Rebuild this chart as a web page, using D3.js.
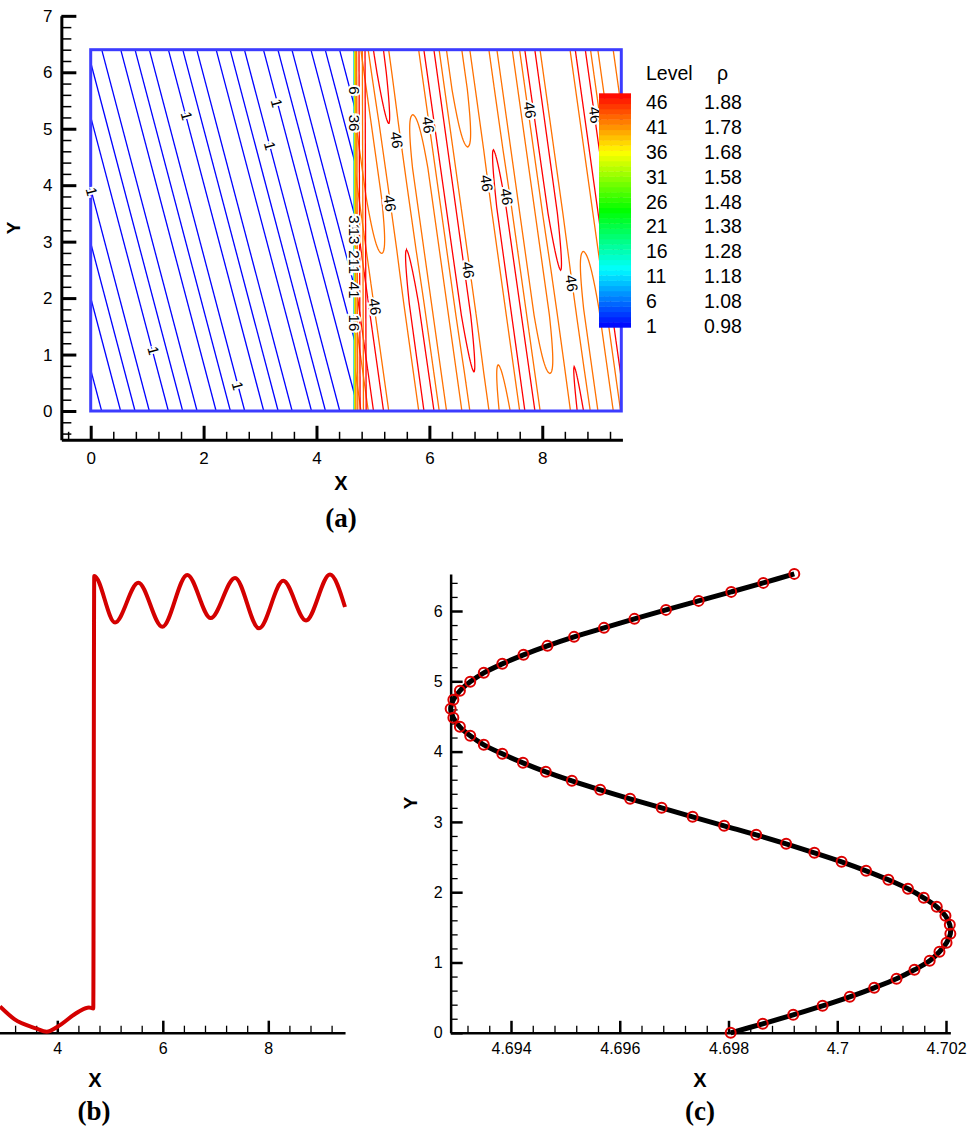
<!DOCTYPE html>
<html><head><meta charset="utf-8">
<script src="https://cdn.jsdelivr.net/npm/d3@7"></script>
<style>
body{margin:0;background:#fff}
svg{display:block}
</style>
</head><body>
<svg id="chart" width="977" height="1128"></svg>
<script>
// ================= DATA =================
// colour legend (panel a)
const levelNums = [46, 41, 36, 31, 26, 21, 16, 11, 6, 1];
const levelRho  = ["1.88", "1.78", "1.68", "1.58", "1.48", "1.38", "1.28", "1.18", "1.08", "0.98"];
const drawnLevels = [1.78, 1.88];   // levels 41 and 46 in the compressed region

// panel (a) ticks
const aXTicks = [0, 2, 4, 6, 8];
const aYTicks = [0, 1, 2, 3, 4, 5, 6, 7];
// panel (a) field extent
const fieldX = [0, 9.4];
const fieldY = [0, 6.4];
// level-1 (blue) contour lines: x where each line meets the top edge, and common slope dx/dy
const blueSlope = 0.264;
const blueTop = [-1.496, -1.16, -0.904, -0.651, -0.314, -0.060, 0.195, 0.532, 0.785, 1.039, 1.376,
                 1.631, 1.879, 2.222, 2.470, 2.723, 3.060, 3.316, 3.564, 3.901, 4.154, 4.408, 4.66];
const blueLabels = [[1.701, 5.226], [3.295, 5.451], [3.176, 4.694], [0.018, 3.885], [1.109, 1.068], [2.604, 0.443]];
// interface contour lines
const ifaceLevels = [6, 11, 16, 21, 26, 31, 36, 41];
const ifaceX      = [4.668, 4.670, 4.672, 4.674, 4.676, 4.680, 4.684, 4.700];
const ifaceLabels = [["6", 5.68], ["36", 5.10], ["31", 3.32], ["13", 3.10], ["21", 2.70], ["1", 2.50], ["41", 2.14], ["16", 1.56]];
// lines hugging the interface on the compressed side: [x, level]
const nearLines = [[4.712, 41], [4.753, 46], [4.812, 41], [4.860, 46]];
// compressed region: crests of the tilted waves (x at y = 0) and their density along y  [y, rho] knots
const waveSlope = 0.14;
const troughRho = 1.765;
const crestU = [4.652, 5.099, 5.546, 5.993, 6.440, 6.887, 7.334, 7.781, 8.228, 8.675, 9.122, 9.569, 10.016, 10.463];
const crestRho = [
  [[0, 1.81], [6.4, 1.81]],
  [[0, 1.94], [6.4, 1.94]],
  [[0, 1.768], [1.9, 1.772], [2.794, 1.78], [3.8, 1.81], [6.4, 1.81]],
  [[0, 1.94], [1.9, 1.93], [2.852, 1.88], [4.0, 1.872], [5.097, 1.88], [6.0, 1.93], [6.4, 1.94]],
  [[0, 1.81], [4.3, 1.81], [5.244, 1.78], [6.0, 1.772], [6.4, 1.768]],
  [[0, 1.875], [0.696, 1.88], [1.7, 1.93], [6.4, 1.94]],
  [[0, 1.79], [0.815, 1.78], [1.8, 1.772], [3.7, 1.772], [4.682, 1.78], [5.7, 1.81], [6.4, 1.81]],
  [[0, 1.94], [3.6, 1.93], [4.624, 1.88], [5.6, 1.872], [6.4, 1.872]],
  [[0, 1.772], [0.668, 1.78], [1.7, 1.81], [6.4, 1.81]],
  [[0, 1.90], [0.785, 1.88], [1.6, 1.872], [2.498, 1.88], [3.5, 1.93], [6.4, 1.94]],
  [[0, 1.81], [1.8, 1.81], [2.822, 1.78], [3.8, 1.772], [6.4, 1.768]],
  [[0, 1.94], [6.4, 1.94]],
  [[0, 1.81], [6.4, 1.81]],
  [[0, 1.94], [6.4, 1.94]]
];
const labels46 = [[5.421, 4.801], [5.981, 5.066], [5.302, 3.679], [7.782, 5.332], [7.015, 4.034],
                  [7.369, 3.796], [6.689, 2.498], [8.521, 2.262], [5.036, 1.848], [8.934, 5.244]];

// panel (b): density along a horizontal cut
const bTicks = [4, 6, 8];
const bX   = [2.914, 3.185, 3.596, 3.800, 4.000, 4.400, 4.600, 4.682, 4.700, 5.094, 5.536, 5.991, 6.464, 6.908, 7.369, 7.824, 8.284, 8.715, 9.170, 9.454];
const bRho = [1.016, 0.990, 0.971, 0.964, 0.974, 1.005, 1.014, 1.012, 1.904, 1.808, 1.890, 1.799, 1.906, 1.817, 1.900, 1.796, 1.894, 1.812, 1.907, 1.840];

// panel (c): interface position
const cXTicks = [4.694, 4.696, 4.698, 4.700, 4.702];
const cYTicks = [0, 1, 2, 3, 4, 5, 6];
const cY = [0.000, 0.128, 0.256, 0.384, 0.512, 0.640, 0.768, 0.896, 1.024, 1.152, 1.280, 1.408, 1.536,
            1.664, 1.792, 1.920, 2.048, 2.176, 2.304, 2.432, 2.560, 2.688, 2.816, 2.944, 3.072, 3.200,
            3.328, 3.456, 3.584, 3.712, 3.840, 3.968, 4.096, 4.224, 4.352, 4.480, 4.608, 4.736, 4.864,
            4.992, 5.120, 5.248, 5.376, 5.504, 5.632, 5.760, 5.888, 6.016, 6.144, 6.272, 6.400, 6.528];
const cX = [4.69804, 4.69863, 4.69919, 4.69973, 4.70023, 4.70068, 4.70109, 4.70142, 4.70170, 4.70188,
            4.70201, 4.70208, 4.70207, 4.70199, 4.70183, 4.70159, 4.70130, 4.70094, 4.70053, 4.70008,
            4.69958, 4.69906, 4.69851, 4.69792, 4.69734, 4.69677, 4.69619, 4.69564, 4.69512, 4.69464,
            4.69422, 4.69384, 4.69350, 4.69325, 4.69306, 4.69294, 4.69289, 4.69294, 4.69306, 4.69325,
            4.69350, 4.69384, 4.69423, 4.69467, 4.69516, 4.69571, 4.69627, 4.69685, 4.69745, 4.69805,
            4.69864, 4.69921];

// ================= DRAWING =================
const SANS = '"Liberation Sans", Arial, Helvetica, sans-serif';
const SERIF = '"Liberation Serif", "Times New Roman", serif';
const svg = d3.select("#chart");
const defs = svg.append("defs");
const cmap = d3.scaleLinear().domain([1, 12.25, 23.5, 34.75, 46])
  .range(["#0000ff", "#00ffff", "#00ff00", "#ffff00", "#ff0000"]);
const rhoToLevel = d3.scaleLinear().domain([0.98, 1.88]).range([1, 46]);

function styleAxis(g, w, tw, font) {
  g.select(".domain").attr("stroke", "#000").attr("stroke-width", w);
  g.selectAll(".tick line").attr("stroke", "#000").attr("stroke-width", tw);
  g.selectAll(".tick text").attr("fill", "#000").attr("font-family", SANS).attr("font-size", font);
}
function minorAxis(g, axis, tw) {
  g.call(axis);
  g.select(".domain").remove();
  g.selectAll(".tick line").attr("stroke", "#000").attr("stroke-width", tw);
}

// ---------- Panel (a) ----------
const xA = d3.scaleLinear().domain(fieldX).range([90.7, 621.3]);
const yA = d3.scaleLinear().domain(fieldY).range([411, 49.7]);
const ifaceMin = d3.min(ifaceX);
const gA = svg.append("g");

defs.append("clipPath").attr("id", "clipL").append("rect")
  .attr("x", xA(0)).attr("y", yA(6.4)).attr("width", xA(ifaceMin) - xA(0)).attr("height", yA(0) - yA(6.4));
defs.append("clipPath").attr("id", "clipR").append("rect")
  .attr("x", xA(ifaceMin)).attr("y", yA(6.4)).attr("width", xA(9.4) - xA(ifaceMin)).attr("height", yA(0) - yA(6.4));

// blue level-1 lines
gA.append("g").attr("clip-path", "url(#clipL)")
  .selectAll("line").data(blueTop).join("line")
  .attr("x1", d => xA(d)).attr("y1", yA(fieldY[1]))
  .attr("x2", d => xA(d + blueSlope * fieldY[1])).attr("y2", yA(fieldY[0]))
  .attr("stroke", cmap(1)).attr("stroke-width", 1.3);

// compressed region: grid table built from crest arrays, contoured with d3.contours
const gx0 = 4.68, gdx = 0.01, gdy = 0.02;
const nx = Math.round((fieldX[1] - gx0) / gdx), ny = Math.round((fieldY[1] - fieldY[0]) / gdy);
const crestScales = crestRho.map(k => d3.scaleLinear().domain(k.map(p => p[0])).range(k.map(p => p[1])).clamp(true));
const grid = new Float64Array(nx * ny);
for (let j = 0; j < ny; j++) {
  const y = fieldY[1] - (j + 0.5) * gdy;
  const P = crestScales.map(s => s(y));
  for (let i = 0; i < nx; i++) {
    const x = gx0 + (i + 0.5) * gdx;
    const u = x + waveSlope * y;
    let k = d3.bisectRight(crestU, u) - 1;
    k = Math.max(0, Math.min(crestU.length - 2, k));
    const mid = (crestU[k] + crestU[k + 1]) / 2;
    let v;
    if (u < mid) {
      const t = Math.max(0, (u - crestU[k]) / (mid - crestU[k]));
      v = troughRho + (P[k] - troughRho) * (1 + Math.cos(Math.PI * Math.min(1, t))) / 2;
    } else {
      const t = Math.max(0, (crestU[k + 1] - u) / (crestU[k + 1] - mid));
      v = troughRho + (P[k + 1] - troughRho) * (1 + Math.cos(Math.PI * Math.min(1, t))) / 2;
    }
    grid[j * nx + i] = v;
  }
}
const contours = d3.contours().size([nx, ny]).thresholds(drawnLevels)(Array.from(grid));
const proj = d3.geoTransform({ point: function (px, py) {
  this.stream.point(xA(gx0 + px * gdx), yA(fieldY[1] - py * gdy));
}});
const geoPath = d3.geoPath(proj);
const gR = gA.append("g").attr("clip-path", "url(#clipR)");
gR.selectAll("path").data(contours).join("path")
  .attr("d", geoPath).attr("fill", "none")
  .attr("stroke", d => cmap(rhoToLevel(d.value))).attr("stroke-width", 1.3);
gR.selectAll(".near").data(nearLines).join("line")
  .attr("x1", d => xA(d[0])).attr("x2", d => xA(d[0] + 0.02))
  .attr("y1", yA(6.4)).attr("y2", yA(0))
  .attr("stroke", d => cmap(d[1])).attr("stroke-width", 1.3);

// interface lines
gA.append("g").selectAll("line").data(ifaceX).join("line")
  .attr("x1", d => xA(d)).attr("x2", d => xA(d))
  .attr("y1", yA(6.4)).attr("y2", yA(0))
  .attr("stroke", (d, i) => cmap(ifaceLevels[i])).attr("stroke-width", 1.2);

// frame of the field
gA.append("rect").attr("x", xA(0)).attr("y", yA(6.4))
  .attr("width", xA(9.4) - xA(0)).attr("height", yA(0) - yA(6.4))
  .attr("fill", "none").attr("stroke", "#3c3cff").attr("stroke-width", 3);

// contour labels
function contourLabel(g, data, txt, rot, xf, yf) {
  g.selectAll(null).data(data).join("text")
    .attr("transform", d => `translate(${xf(d)},${yf(d)}) rotate(${rot})`)
    .attr("text-anchor", "middle").attr("dy", "0.35em")
    .attr("font-family", SANS).attr("font-size", 15)
    .attr("paint-order", "stroke").attr("stroke", "#fff").attr("stroke-width", 4)
    .attr("fill", "#000").text(txt);
}
contourLabel(gA, blueLabels, "1", 75, d => xA(d[0]), d => yA(d[1]));
contourLabel(gA, labels46, "46", 82, d => xA(d[0]), d => yA(d[1]));
gA.selectAll(".il").data(ifaceLabels).join("text")
  .attr("transform", d => `translate(${xA(4.676)},${yA(d[1])}) rotate(90)`)
  .attr("text-anchor", "middle").attr("dy", "0.35em")
  .attr("font-family", SANS).attr("font-size", 15)
  .attr("paint-order", "stroke").attr("stroke", "#fff").attr("stroke-width", 4)
  .attr("fill", "#000").text(d => d[0]);

// colour bar
const yLev = d3.scaleLinear().domain([1, 46]).range([327.3, 93.3]);
const bandsCB = d3.range(1, 46);
gA.append("g").selectAll("rect").data(bandsCB).join("rect")
  .attr("x", 599).attr("width", 32)
  .attr("y", d => yLev(d + 1)).attr("height", d => yLev(d) - yLev(d + 1) + 0.4)
  .attr("fill", d => cmap(d + 0.5));
const legend = gA.append("g").attr("font-family", SANS).attr("font-size", 19.5).attr("fill", "#000");
legend.append("text").attr("x", 646).attr("y", 80).text("Level");
legend.append("text").attr("x", 717).attr("y", 80).text("ρ");
legend.selectAll(".ln").data(levelNums).join("text")
  .attr("x", 646).attr("y", (d, i) => 109.3 + i * 24.8).text(d => d);
legend.selectAll(".lr").data(levelRho).join("text")
  .attr("x", 704).attr("y", (d, i) => 109.3 + i * 24.8).text(d => d);

// axes (a)
const xAx = d3.scaleLinear().domain([-0.52, 9.42]).range([xA(-0.52), xA(9.42)]);
const yAx = d3.scaleLinear().domain([-0.51, 7]).range([yA(-0.51), yA(7)]);
const axAy = xA(-0.52), axAx = yA(-0.51);
const gAxX = gA.append("g").attr("transform", `translate(0,${axAx})`);
minorAxis(gAxX.append("g"), d3.axisBottom(xAx).tickValues(d3.range(-0.4, 9.4, 0.4).filter(v => Math.abs(v / 2 - Math.round(v / 2)) > 0.01)).tickSize(-8).tickFormat(""), 1.5);
gAxX.append("g").call(d3.axisBottom(xAx).tickValues(aXTicks).tickSize(-14).tickSizeOuter(0).tickPadding(12))
  .call(g => styleAxis(g, 3, 3, 17));
const gAxY = gA.append("g").attr("transform", `translate(${axAy},0)`);
minorAxis(gAxY.append("g"), d3.axisLeft(yAx).tickValues(d3.range(-0.4, 7, 0.2).filter(v => Math.abs(v - Math.round(v)) > 0.01)).tickSize(-10).tickFormat(""), 1.5);
gAxY.append("g").call(d3.axisLeft(yAx).tickValues(aYTicks).tickSize(-15).tickSizeOuter(0).tickPadding(9))
  .call(g => styleAxis(g, 3, 3, 17));
gA.append("text").attr("transform", "translate(20,228) rotate(-90)").attr("text-anchor", "middle")
  .attr("font-family", SANS).attr("font-weight", "bold").attr("font-size", 19).text("Y");
gA.append("text").attr("x", 341).attr("y", 490).attr("text-anchor", "middle")
  .attr("font-family", SANS).attr("font-weight", "bold").attr("font-size", 20).text("X");
gA.append("text").attr("x", 341).attr("y", 527).attr("text-anchor", "middle")
  .attr("font-family", SERIF).attr("font-weight", "bold").attr("font-size", 27).text("(a)");

// ---------- Panel (b) ----------
const xB = d3.scaleLinear().domain([4, 8]).range([57.3, 268.3]);
const yB = d3.scaleLinear().domain([0.962, 1.908]).range([1032.7, 574]);
const gB = svg.append("g");
const xBx = d3.scaleLinear().domain([0, 9.455]).range([xB(0), xB(9.455)]);
const gBx = gB.append("g").attr("transform", `translate(0,${yB(0.962)})`);
minorAxis(gBx.append("g"), d3.axisBottom(xBx).tickValues(d3.range(0.4, 9.4, 0.4).filter(v => Math.abs(v / 2 - Math.round(v / 2)) > 0.01)).tickSize(-7).tickFormat(""), 1.3);
gBx.append("g").call(d3.axisBottom(xBx).tickValues(bTicks).tickSize(-12).tickSizeOuter(0).tickPadding(10))
  .call(g => styleAxis(g, 2.5, 2.5, 16));
gB.append("path").datum(bX.map((x, i) => [x, bRho[i]]))
  .attr("d", d3.line().x(d => xB(d[0])).y(d => yB(d[1])).curve(d3.curveMonotoneX))
  .attr("fill", "none").attr("stroke", "#d40000").attr("stroke-width", 4);
gB.append("text").attr("x", 95).attr("y", 1087).attr("text-anchor", "middle")
  .attr("font-family", SANS).attr("font-weight", "bold").attr("font-size", 20).text("X");
gB.append("text").attr("x", 94).attr("y", 1120).attr("text-anchor", "middle")
  .attr("font-family", SERIF).attr("font-weight", "bold").attr("font-size", 27).text("(b)");

// ---------- Panel (c) ----------
const xC = d3.scaleLinear().domain([4.694, 4.702]).range([511, 946]);
const yC = d3.scaleLinear().domain([0, 6]).range([1032.8, 611]);
const gC = svg.append("g");
const xCext = d3.extent(cX), yCext = d3.extent(cY);
const xCx = d3.scaleLinear().domain(xCext).range(xCext.map(xC));
const yCx = d3.scaleLinear().domain(yCext).range(yCext.map(yC));
const gCx = gC.append("g").attr("transform", `translate(0,${yC(0)})`);
minorAxis(gCx.append("g"), d3.axisBottom(xCx).tickValues(d3.range(4.6932, 4.7021, 0.0004).filter(v => Math.abs(v / 0.002 - Math.round(v / 0.002)) > 0.01)).tickSize(-7).tickFormat(""), 1.3);
gCx.append("g").call(d3.axisBottom(xCx).tickValues(cXTicks).tickSize(-12).tickSizeOuter(0).tickPadding(10).tickFormat(d3.format("~g")))
  .call(g => styleAxis(g, 2.5, 2.5, 16));
const gCy = gC.append("g").attr("transform", `translate(${xC(xCext[0])},0)`);
minorAxis(gCy.append("g"), d3.axisLeft(yCx).tickValues(d3.range(0.2, 6.5, 0.2).filter(v => Math.abs(v - Math.round(v)) > 0.01)).tickSize(-7).tickFormat(""), 1.3);
gCy.append("g").call(d3.axisLeft(yCx).tickValues(cYTicks).tickSize(-12).tickSizeOuter(0).tickPadding(8).tickFormat(d3.format("d")))
  .call(g => styleAxis(g, 2.5, 2.5, 16));
const ptsC = cX.map((x, i) => [x, cY[i]]);
gC.append("path").datum(ptsC)
  .attr("d", d3.line().x(d => xC(d[0])).y(d => yC(d[1])).curve(d3.curveCatmullRom))
  .attr("fill", "none").attr("stroke", "#000").attr("stroke-width", 5);
gC.selectAll("circle").data(ptsC).join("circle")
  .attr("cx", d => xC(d[0])).attr("cy", d => yC(d[1])).attr("r", 5)
  .attr("fill", "none").attr("stroke", "#dd0000").attr("stroke-width", 2);
gC.append("text").attr("transform", "translate(417,803) rotate(-90)").attr("text-anchor", "middle")
  .attr("font-family", SANS).attr("font-weight", "bold").attr("font-size", 19).text("Y");
gC.append("text").attr("x", 700).attr("y", 1087).attr("text-anchor", "middle")
  .attr("font-family", SANS).attr("font-weight", "bold").attr("font-size", 20).text("X");
gC.append("text").attr("x", 700).attr("y", 1120).attr("text-anchor", "middle")
  .attr("font-family", SERIF).attr("font-weight", "bold").attr("font-size", 27).text("(c)");
</script>
</body></html>
